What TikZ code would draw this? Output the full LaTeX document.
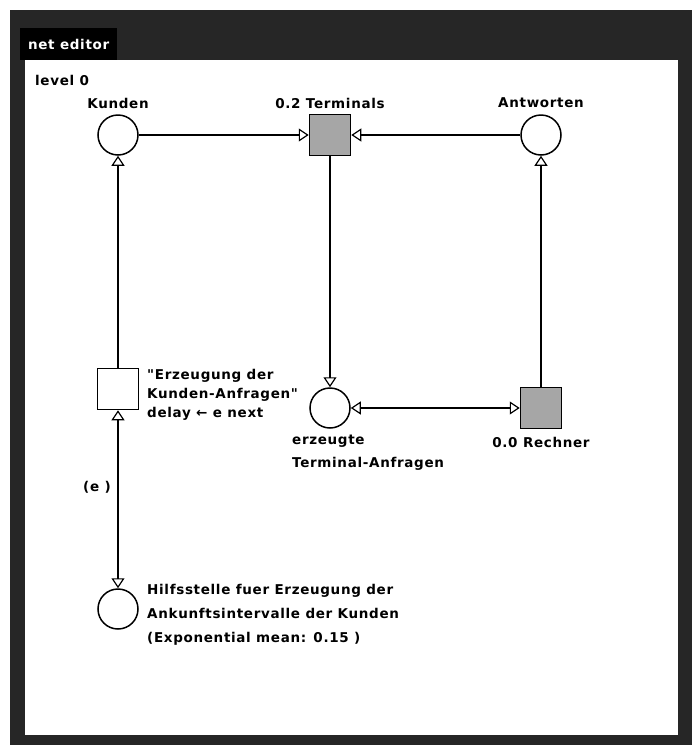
\documentclass[tikz,border=0pt]{standalone}
\usepackage{fontspec}
\setmainfont{DejaVu Sans}[LetterSpace=5,Ligatures=TeXOff]
\usetikzlibrary{arrows.meta}
\begin{document}
\begin{tikzpicture}[x=1pt,y=-1pt,
  place/.style={circle,draw,line width=1.5pt,minimum size=40pt,inner sep=0pt},
  trans/.style={rectangle,draw,line width=1.5pt,minimum size=41pt,inner sep=0pt,fill=white},
  timed/.style={trans,fill=black!35},
  tip/.tip={Triangle[open,length=10pt,width=13pt,line width=1.2pt]},
  arc/.style={line width=1.4pt,-tip},
  biarc/.style={line width=1.4pt,tip-tip},
  lbl/.style={font=\bfseries\fontsize{13.5}{16}\selectfont,inner sep=0pt},
]
\useasboundingbox (0,0) rectangle (696,745);
\fill[white] (0,0) rectangle (696,745);
\fill[black!85] (10,10) rectangle (692,745);
\fill[white] (25,60) rectangle (678,735);
\node[fill=black,text=white,font=\bfseries\fontsize{13.5}{16}\selectfont,anchor=north west,
      minimum width=97pt,minimum height=32pt,inner sep=4pt,text depth=0pt] (tab) at (20,28) {net editor};

\node[lbl,anchor=west] (level) at (35,80) {level 0};

\node[place] (kunden) at (118,135) {};
\node[timed] (term) at (330,135) {};
\node[place] (antw) at (541,135) {};
\node[trans] (erz) at (118,389) {};
\node[place] (erzp) at (330,408) {};
\node[timed] (rech) at (541,408) {};
\node[place] (hilf) at (118,609) {};

\node[lbl] (kundenl) at (118,103) {Kunden};
\node[lbl] (terml) at (330,103) {0.2 Terminals};
\node[lbl] (antwl) at (541,103) {Antworten};
\node[lbl,anchor=north west,align=left,font=\bfseries\fontsize{13.5}{19}\selectfont] (erzl) at (147,369)
  {"Erzeugung der\\Kunden-Anfragen"\\delay ← e next};
\node[lbl,anchor=north west,align=left,font=\bfseries\fontsize{13.5}{23}\selectfont] (erzpl) at (292,435)
  {erzeugte\\Terminal-Anfragen};
\node[lbl] (rechl) at (541,442) {0.0 Rechner};
\node[lbl] (el) at (97,487) {(e )};
\node[lbl,anchor=north west,align=left,font=\bfseries\fontsize{13.5}{24}\selectfont] (hilfl) at (147,584)
  {Hilfsstelle fuer Erzeugung der\\Ankunftsintervalle der Kunden\\(Exponential mean: 0.15 )};

\draw[arc] (kunden) -- (term);
\draw[arc] (antw) -- (term);
\draw[arc] (term) -- (erzp);
\draw[arc] (rech) -- (antw);
\draw[biarc] (erzp) -- (rech);
\draw[arc] (erz) -- (kunden);
\draw[biarc] (hilf) -- (erz);
\end{tikzpicture}
\end{document}
